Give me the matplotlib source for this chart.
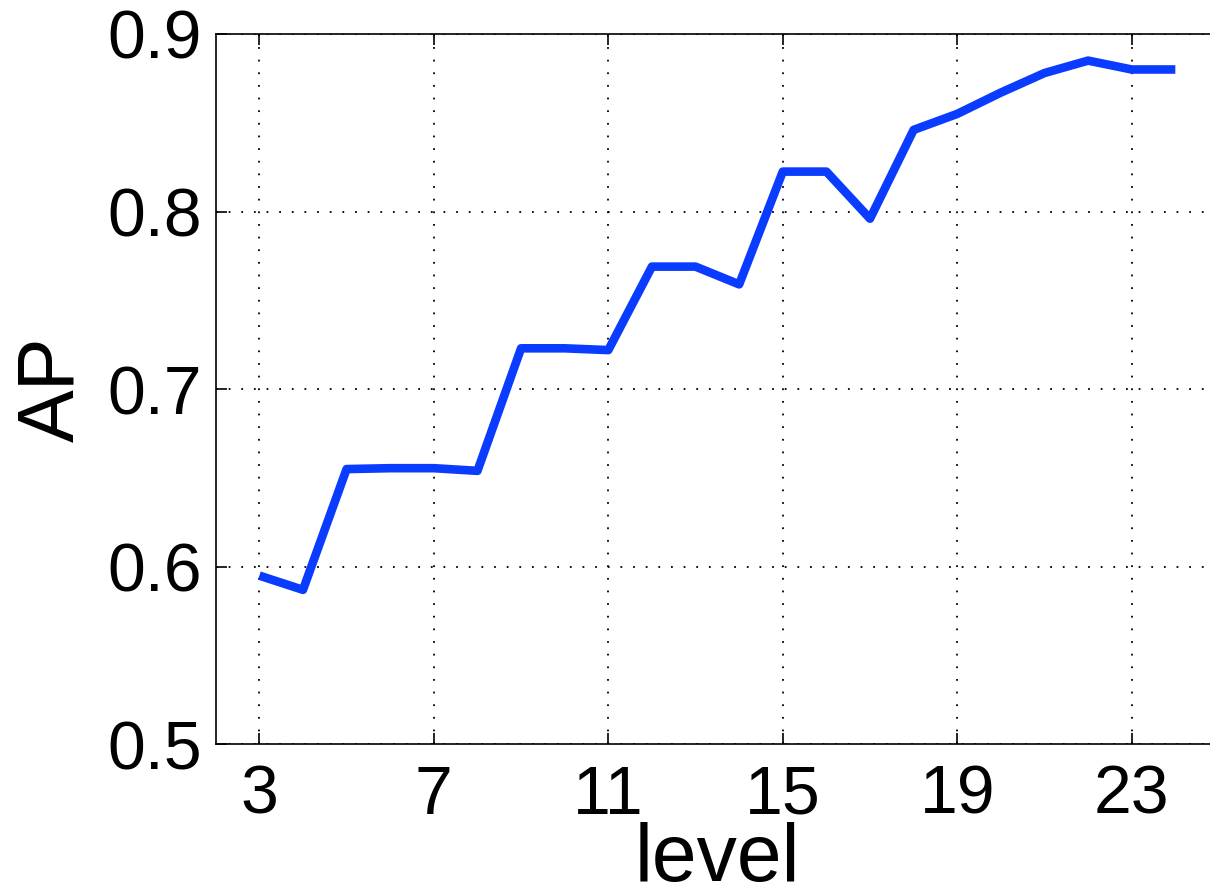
import matplotlib
matplotlib.use("Agg")
import matplotlib.pyplot as plt

# AP measured at each pyramid level
levels = [3, 4, 5, 6, 7, 8, 9, 10, 11, 12, 13, 14, 15, 16, 17, 18, 19, 20, 21, 22, 23, 24]
ap = [0.595, 0.587, 0.655, 0.6555, 0.6555, 0.654, 0.723, 0.723, 0.722, 0.769, 0.769, 0.759,
      0.8225, 0.8225, 0.796, 0.846, 0.855, 0.867, 0.878, 0.885, 0.880, 0.880]

xticks = [3, 7, 11, 15, 19, 23]
yticks = [0.5, 0.6, 0.7, 0.8, 0.9]

plt.rcParams['font.family'] = ['Liberation Sans', 'DejaVu Sans']

fig = plt.figure(figsize=(12.1, 8.94), dpi=100)
ax = fig.add_axes([0.1783, 0.1674, 0.8291, 0.7946])

ax.plot(levels, ap, color='#0a3cff', linewidth=6.2, solid_joinstyle='round',
        solid_capstyle='butt', zorder=3)

ax.set_xlim(2, 25)
ax.set_ylim(0.5, 0.9)
ax.set_xticks(xticks)
ax.set_yticks(yticks)
ax.set_xticklabels([str(t) for t in xticks])
ax.set_yticklabels([f"{t:.1f}" for t in yticks])

ax.grid(True, linestyle=(0, (1, 6)), color='black', linewidth=1.3)
ax.tick_params(axis='both', direction='in', length=8, width=1.2, labelsize=49,
               top=True, right=False)
ax.tick_params(axis='x', pad=14)
ax.tick_params(axis='y', pad=10)

for s in ax.spines.values():
    s.set_linewidth(1.2)
    s.set_color('black')

ax.set_xlabel('level', fontsize=58, labelpad=-4)
ax.set_ylabel('AP', fontsize=57, labelpad=12)

fig.savefig('out.png', dpi=100)
